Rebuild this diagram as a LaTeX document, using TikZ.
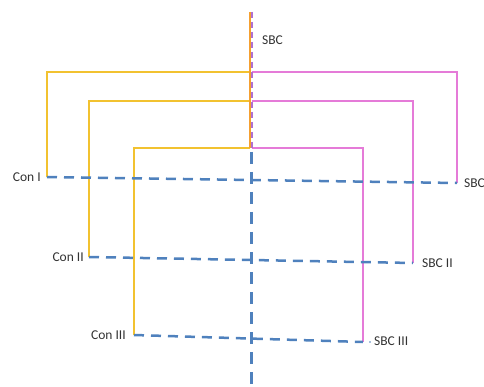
\documentclass[tikz,border=0pt]{standalone}
\usepackage{fontspec}
\setmainfont{Carlito}
\definecolor{cyel}{HTML}{F2C230}
\definecolor{cpink}{HTML}{E57BD8}
\definecolor{cblue}{HTML}{4F81BD}
\definecolor{corange}{HTML}{F5A030}
\definecolor{cpurple}{HTML}{B070D0}
\begin{document}
\begin{tikzpicture}[x=1pt,y=-1pt,
  yel/.style={cyel,line width=1.4pt},
  pnk/.style={cpink,line width=1.4pt},
  bdash/.style={cblue,line width=2.5pt,dash pattern=on 10pt off 7pt},
  lbl/.style={font=\fontsize{13.5}{15}\selectfont,text=black!80,inner sep=1pt}]
\useasboundingbox (0,0) rectangle (484,387);
% corner coordinates
\coordinate (top) at (250,12);
\coordinate (mid) at (250,150);
\coordinate (bot) at (251,387);
\coordinate (y1) at (250,72);
\coordinate (y2) at (250,101);
\coordinate (y3) at (250,148);
\coordinate (p1) at (252,72);
\coordinate (p2) at (252,101);
\coordinate (p3) at (252,148);
\coordinate (c1) at (47,177);
\coordinate (c2) at (89,257);
\coordinate (c3) at (134,335);
\coordinate (s1) at (457,183);
\coordinate (s2) at (413,263);
\coordinate (s3) at (363,342);
% yellow
\draw[yel] (y1) -| (c1);
\draw[yel] (y2) -| (c2);
\draw[yel] (y3) -| (c3);
% pink
\draw[pnk] (p1) -| (s1);
\draw[pnk] (p2) -| (s2);
\draw[pnk] (p3) -| (s3);
% blue dashed
\draw[bdash] (c1) -- (s1);
\draw[bdash] (c2) -- (s2);
\draw[bdash] (c3) -- (s3);
\draw[cblue,line width=3pt,dash pattern=on 12pt off 8pt] (251,152) -- (bot);
% centre line
\draw[corange,line width=2.5pt] (top) -- (y3);
\draw[cpurple,line width=1.2pt,dash pattern=on 6pt off 4pt] (252,12) -- (p3);
% labels
\node[lbl,anchor=west] (sbc0) at (261,40) {SBC};
\node[lbl,anchor=east] (con1) at (42,177) {Con I};
\node[lbl,anchor=east] (con2) at (85,257) {Con II};
\node[lbl,anchor=east] (con3) at (127,335) {Con III};
\node[lbl,anchor=west] (sbc1) at (463,183) {SBC};
\node[lbl,anchor=west] (sbc2) at (421,263) {SBC II};
\node[lbl,anchor=west] (sbc3) at (373,341) {SBC III};
\fill[cblue] (370,342) circle (0.8pt);
\end{tikzpicture}
\end{document}
